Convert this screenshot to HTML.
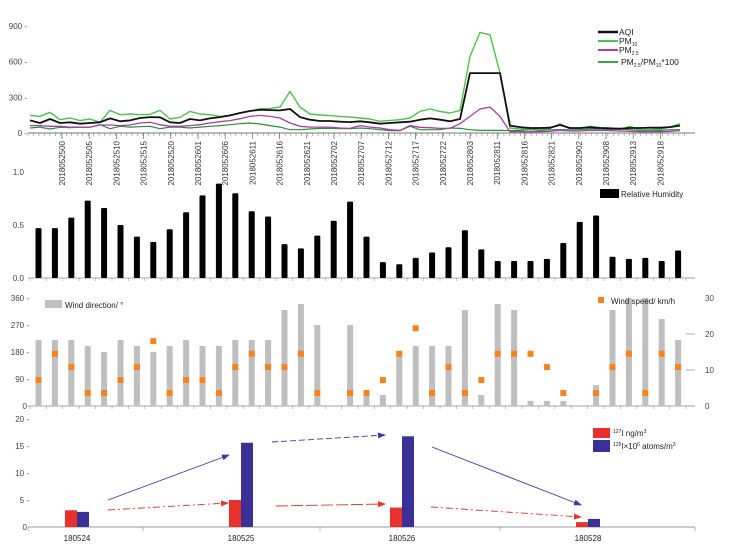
<!DOCTYPE html>
<html><head><meta charset="utf-8"><style>
html,body{margin:0;padding:0;background:#fff;}
svg{display:block;font-family:"Liberation Sans",Arial,sans-serif;}
</style></head><body>
<svg id="c" width="733" height="544" viewBox="0 0 733 544"></svg>
<script>
// ---- Panel 1 data (air quality, sampled every 10px along time axis) ----
const aqi  = [106,84,118,84,90,78,84,90,123,98,106,126,134,132,90,84,118,106,123,134,148,168,185,196,193,190,202,134,112,101,101,95,92,98,90,78,84,90,95,112,123,112,98,118,504,504,504,504,62,50,42,42,45,67,42,42,48,42,39,36,42,42,45,45,50,62];
const pm10 = [148,140,174,112,126,104,118,90,190,154,160,154,157,190,118,132,182,160,154,140,146,168,185,202,207,218,350,218,160,151,146,140,134,126,118,98,106,112,126,182,202,182,168,190,644,846,826,504,42,34,39,34,39,78,34,39,56,45,42,28,56,28,28,34,50,78];
const pm25 = [62,62,56,56,50,50,50,67,67,62,67,84,90,70,56,56,62,70,84,95,104,120,140,148,140,126,84,56,50,50,50,42,39,62,50,42,28,22,62,48,45,39,39,78,140,202,218,140,11,11,11,11,14,22,17,17,22,22,20,17,14,11,11,11,14,20];
const ratio= [42,50,34,48,45,48,48,70,36,56,50,53,56,36,50,50,42,50,56,62,70,78,84,76,62,50,28,28,34,39,39,36,36,42,36,28,20,20,56,28,28,28,42,39,28,22,22,22,20,22,28,22,28,28,28,28,34,34,28,34,28,22,22,22,28,28];
const timeLabels = ["2018052500","2018052505","2018052510","2018052515","2018052520","2018052601","2018052606","2018052611","2018052616","2018052621","2018052702","2018052707","2018052712","2018052717","2018052722","2018052803","2018052811","2018052816","2018052821","2018052902","2018052908","2018052913","2018052918"];
const p1Ticks = [0,300,600,900];
// ---- Panel 2 data (relative humidity) ----
const rh = [0.47,0.47,0.57,0.73,0.66,0.50,0.39,0.34,0.46,0.62,0.78,0.89,0.80,0.63,0.58,0.32,0.28,0.40,0.54,0.72,0.39,0.15,0.13,0.19,0.24,0.29,0.45,0.27,0.16,0.16,0.16,0.18,0.33,0.53,0.59,0.20,0.18,0.19,0.16,0.26];
const rhTicks = [0.0,0.5,1.0];
// ---- Panel 3 data (wind) ----
const windDir = [220,220,220,200,180,220,200,180,200,220,200,200,220,220,220,320,340,270,0,270,36,37,180,200,200,200,320,37,340,320,17,17,17,0,70,320,360,360,290,220];
const windSpd = [7.2,14.5,10.8,3.6,3.6,7.2,10.8,18,3.6,7.2,7.2,3.6,10.8,14.5,10.8,10.8,14.5,3.6,null,3.6,3.6,7.2,14.5,21.6,3.6,10.8,3.6,7.2,14.5,14.5,14.5,10.8,3.6,null,3.6,10.8,14.5,3.6,14.5,10.8];
const dirTicks = [0,90,180,270,360];
const spdTicks = [0,10,20,30];
// ---- Panel 4 data (iodine) ----
const samples = ["180524","180525","180526","180528"];
const i127 = [3.1,5.0,3.6,0.9];
const i129 = [2.8,15.6,16.8,1.5];
const iTicks = [0,5,10,15,20];

const svg=document.getElementById('c');
const NS='http://www.w3.org/2000/svg';
function mk(tag,attrs,parent){const e=document.createElementNS(NS,tag);for(const k in attrs)e.setAttribute(k,attrs[k]);(parent||svg).appendChild(e);return e;}
function txt(s,attrs,parent){const e=mk('text',attrs,parent);e.textContent=s;return e;}

// scales
const tx = i => 30 + i*10;
const y1 = v => 133 - v*(107/900);
const bx = k => 38.5 + k*16.4;
const y2 = v => 278 - v*106;
const y3 = v => 406 - v*(108/360);
const y3r = v => 406 - v*(108/30);
const cx4 = j => [77,241,402,588][j];
const y4 = v => 527 - v*5.4;

// ---------- Panel 1 ----------
const g1=mk('g',{});


mk('line',{x1:28,y1:133,x2:695,y2:133,stroke:'#777','stroke-width':1},g1);
for(let t=0;t<=120;t++){const x=28+t*5.47; if(x>695)break; mk('line',{x1:x,y1:133,x2:x,y2:136,stroke:'#888','stroke-width':0.6},g1);}
timeLabels.forEach((s,j)=>{const x=62+j*27.2;
 mk('line',{x1:x,y1:133,x2:x,y2:139,stroke:'#777','stroke-width':0.8},g1);
 const t=txt(s,{x:0,y:0,'font-size':8,fill:'#333','text-anchor':'end',transform:`translate(${x+3},141) rotate(-90)`},g1);
 
 
});
p1Ticks.forEach(v=>{const t=txt(v+' -',{x:27,y:y1(v)+3,'font-size':8,fill:'#444','text-anchor':'end'},g1);
 
 });
function line(arr,color,w,name){const d=arr.map((v,i)=>(i?'L':'M')+tx(i)+','+y1(v).toFixed(1)).join('');
 const p=mk('path',{d:d,fill:'none',stroke:color,'stroke-width':w,'stroke-linejoin':'round'},g1);
 
 }
line(ratio,'#2e8b3e',1.2,'ratio-line');
line(pm25,'#a540a5',1.3,'pm25-line');
line(pm10,'#4cc24c',1.4,'pm10-line');
line(aqi,'#111',1.8,'aqi-line');
const lg1=[['AQI','#111',32,1.8],['PM10','#4cc24c',41,1.4],['PM2.5','#a540a5',50,1.3],['PM2.5/PM10*100','#2e8b3e',62,1.2]];
lg1.forEach(l=>{mk('line',{x1:598,y1:l[2],x2:618,y2:l[2],stroke:l[1],'stroke-width':l[3]+0.6},g1);});
let t;
t=txt('AQI',{x:619,y:35,'font-size':8.5,fill:'#222'},g1);
t=mk('text',{x:619,y:44,'font-size':8.5,fill:'#222'},g1);t.innerHTML='PM<tspan font-size="5" dy="2">10</tspan>';
t=mk('text',{x:619,y:53,'font-size':8.5,fill:'#222'},g1);t.innerHTML='PM<tspan font-size="5" dy="2">2.5</tspan>';
t=mk('text',{x:621,y:65,'font-size':8.5,fill:'#222'},g1);t.innerHTML='PM<tspan font-size="5" dy="2">2.5</tspan><tspan dy="-2">/PM</tspan><tspan font-size="5" dy="2">10</tspan><tspan dy="-2">*100</tspan>';

// ---------- Panel 2 ----------
const g2=mk('g',{});


mk('line',{x1:28,y1:278,x2:695,y2:278,stroke:'#888','stroke-width':0.8},g2);
for(let k=0;k<=40;k++){const x=30+k*16.4; mk('line',{x1:x,y1:278,x2:x,y2:281,stroke:'#999','stroke-width':0.6},g2);}
rhTicks.forEach(v=>{const t=txt(v.toFixed(1),{x:24,y:y2(v)+3,'font-size':8,fill:'#444','text-anchor':'end'},g2);
 
 });
rh.forEach((v,k)=>{const r=mk('rect',{x:bx(k)-3,y:y2(v),width:6,height:278-y2(v),fill:'#000',rx:1},g2);
 
 });
mk('rect',{x:600,y:189,width:19,height:9,fill:'#000'},g2);
t=txt('Relative Humidity',{x:621,y:197,'font-size':8,fill:'#222'},g2);

// ---------- Panel 3 ----------
const g3=mk('g',{});


mk('line',{x1:28,y1:406,x2:695,y2:406,stroke:'#888','stroke-width':0.8},g3);
for(let k=0;k<=40;k++){const x=30+k*16.4; mk('line',{x1:x,y1:406,x2:x,y2:409,stroke:'#999','stroke-width':0.6},g3);}
dirTicks.forEach(v=>{const t=txt(v+(v?' -':''),{x:v?29:27,y:y3(v)+3,'font-size':8,fill:'#444','text-anchor':'end'},g3);
 
 });
spdTicks.forEach(v=>{const t=txt(String(v),{x:705,y:y3r(v)+3,'font-size':8,fill:'#444'},g3);
 
 
 if(v>0&&v<30) mk('line',{x1:686,y1:y3r(v),x2:695,y2:y3r(v),stroke:'#bbb','stroke-width':1.2},g3);});
windDir.forEach((v,k)=>{if(!v)return;const r=mk('rect',{x:bx(k)-3,y:y3(v),width:6,height:406-y3(v),fill:'#bfbfbf'},g3);
 
 });
windSpd.forEach((v,k)=>{if(v==null)return;const r=mk('rect',{x:bx(k)-3,y:y3r(v)-3,width:6,height:6,fill:'#f5841f'},g3);
 
 });
mk('rect',{x:45,y:300,width:17,height:8,fill:'#bfbfbf'},g3);
t=txt('Wind direction/ °',{x:65,y:308,'font-size':8,fill:'#222'},g3);
mk('rect',{x:598,y:297,width:6,height:6,fill:'#f5841f'},g3);
t=txt('Wind speed/ km/h',{x:611,y:304,'font-size':8,fill:'#222'},g3);

// ---------- Panel 4 ----------
const g4=mk('g',{});


const defs=mk('defs',{});
const mB=mk('marker',{id:'ab',markerWidth:8,markerHeight:6,refX:7,refY:3,orient:'auto',markerUnits:'userSpaceOnUse'},defs);mk('path',{d:'M0,0L8,3L0,6Z',fill:'#3a3aa8'},mB);
const mR=mk('marker',{id:'ar',markerWidth:8,markerHeight:6,refX:7,refY:3,orient:'auto',markerUnits:'userSpaceOnUse'},defs);mk('path',{d:'M0,0L8,3L0,6Z',fill:'#e8312a'},mR);
mk('line',{x1:28,y1:527,x2:695,y2:527,stroke:'#777','stroke-width':0.8},g4);
[28,143,320,500,695].forEach(x=>mk('line',{x1:x,y1:527,x2:x,y2:531,stroke:'#888','stroke-width':0.6},g4));
iTicks.forEach(v=>{const t=txt(v+(v?' -':''),{x:v?29:27,y:y4(v)+3,'font-size':8,fill:'#444','text-anchor':'end'},g4);
 
 });
samples.forEach((s,j)=>{const c=cx4(j);
 let r=mk('rect',{x:c-12,y:y4(i127[j]),width:12,height:527-y4(i127[j]),fill:'#e8312a'},g4);
 
 
 r=mk('rect',{x:c,y:y4(i129[j]),width:12,height:527-y4(i129[j]),fill:'#3a3096'},g4);
 
 
 const t=txt(s,{x:c,y:541,'font-size':8,fill:'#222','text-anchor':'middle'},g4);
 
 
});
// trend arrows
[[108,500,229,455,'ab','#3a3aa8',''],[272,442,385,435,'ab','#3a3aa8','6 3'],[432,447,581,505,'ab','#3a3aa8',''],
 [108,510,228,503,'ar','#e8312a','7 3 2 3'],[276,506,385,504,'ar','#e8312a','12 3'],[431,507,581,517,'ar','#e8312a','7 3 2 3']].forEach(a=>{
 const l=mk('line',{x1:a[0],y1:a[1],x2:a[2],y2:a[3],stroke:a[5],'stroke-width':0.9,'stroke-dasharray':a[6],'marker-end':`url(#${a[4]})`},g4);
 
 });
mk('rect',{x:593,y:428,width:17,height:10,fill:'#e8312a'},g4);
mk('rect',{x:593,y:440,width:17,height:12,fill:'#3a3096'},g4);
t=mk('text',{x:613,y:436,'font-size':8,fill:'#222'},g4);t.innerHTML='<tspan font-size="5" dy="-3">127</tspan><tspan dy="3">I ng/m</tspan><tspan font-size="5" dy="-3">3</tspan>';
t=mk('text',{x:613,y:449,'font-size':8,fill:'#222'},g4);t.innerHTML='<tspan font-size="5" dy="-3">129</tspan><tspan dy="3">I×10</tspan><tspan font-size="5" dy="-3">6</tspan><tspan dy="3"> atoms/m</tspan><tspan font-size="5" dy="-3">3</tspan>';
</script>
</body></html>
